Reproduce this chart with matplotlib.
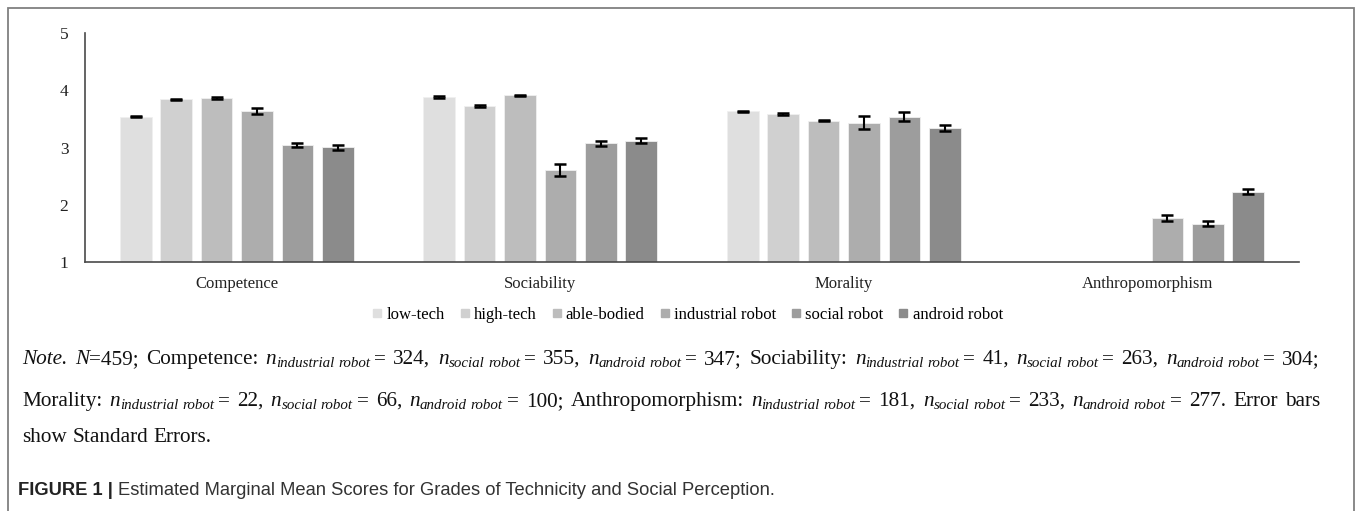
import numpy as np
import matplotlib
matplotlib.use("Agg")
import matplotlib.pyplot as plt
from matplotlib.patches import Rectangle
from matplotlib.lines import Line2D

nan = np.nan
categories = ["Competence", "Sociability", "Morality", "Anthropomorphism"]
groups = ["low-tech", "high-tech", "able-bodied", "industrial robot", "social robot", "android robot"]

low_tech = [3.54, 3.88, 3.63, nan]
high_tech = [3.84, 3.72, 3.59, nan]
able_bodied = [3.86, 3.91, 3.47, nan]
industrial_robot = [3.64, 2.61, 3.43, 1.77]
social_robot = [3.04, 3.07, 3.54, 1.67]
android_robot = [3.00, 3.12, 3.34, 2.23]

se_low_tech = [0.015, 0.015, 0.015, nan]
se_high_tech = [0.015, 0.015, 0.015, nan]
se_able_bodied = [0.015, 0.015, 0.015, nan]
se_industrial_robot = [0.047, 0.10, 0.115, 0.058]
se_social_robot = [0.04, 0.045, 0.075, 0.045]
se_android_robot = [0.045, 0.045, 0.05, 0.047]

yticks = [1, 2, 3, 4, 5]

series = [low_tech, high_tech, able_bodied, industrial_robot, social_robot, android_robot]
errors = [se_low_tech, se_high_tech, se_able_bodied, se_industrial_robot, se_social_robot, se_android_robot]
colors = ["#dfdfdf", "#d0d0d0", "#bdbdbd", "#adadad", "#9d9d9d", "#8b8b8b"]

W, H = 1355, 511
fig = plt.figure(figsize=(W / 100, H / 100), dpi=100)
fig.patch.set_facecolor("white")

def fx(x):
    return x / W

def fy(y):
    return 1 - y / H

ax = fig.add_axes([fx(85), fy(262), (1299 - 85) / W, (262 - 33) / H])
serif = "Liberation Serif"

step = 0.1333
width = 0.105
xs = np.arange(len(categories))
for i, (vals, errs, c) in enumerate(zip(series, errors, colors)):
    x = xs + (i - 2.5) * step
    ax.bar(x, vals, width=width, color=c, edgecolor="#f0f0f0", linewidth=0.6, zorder=2)
    ax.errorbar(x, vals, yerr=errs, fmt="none", ecolor="black", elinewidth=1.5,
                capsize=4, capthick=1.8, zorder=3)

ax.set_xlim(-0.5, len(categories) - 0.5)
ax.set_ylim(1, 5)
ax.set_yticks(yticks)
ax.set_yticklabels([str(t) for t in yticks], fontfamily=serif, fontsize=12.5, color="#222222")
ax.set_xticks(xs)
ax.set_xticklabels(categories, fontfamily=serif, fontsize=12, color="#222222")
ax.tick_params(axis="both", length=0)
ax.tick_params(axis="y", pad=12)
ax.tick_params(axis="x", pad=10)
for s in ["top", "right"]:
    ax.spines[s].set_visible(False)
for s in ["left", "bottom"]:
    ax.spines[s].set_color("#4a4a4a")
    ax.spines[s].set_linewidth(1.2)

handles = [Line2D([], [], marker="s", linestyle="none", markersize=6,
                  markerfacecolor=c, markeredgecolor=c) for c in colors]
fig.legend(handles, groups, loc="center", bbox_to_anchor=(fx(688), fy(315)), ncol=6,
           frameon=False, prop={"family": serif, "size": 12}, handlelength=0.5,
           handletextpad=0.3, columnspacing=0.95, borderaxespad=0)

# outer frame (open at bottom)
fig.add_artist(Rectangle((fx(8), -0.05), (1354 - 8) / W, fy(8) + 0.05, transform=fig.transFigure,
                         fill=False, edgecolor="#808080", linewidth=1.3))

renderer = fig.canvas.get_renderer()
styles = {
    "r": dict(family=serif, size=15.3),
    "i": dict(family=serif, size=15.3, style="italic"),
    "s": dict(family=serif, size=10.8, style="italic"),
}
offsets = {"r": 0, "i": 0, "s": 3}

def width_of(s, st):
    t = fig.text(0, 0, s, fontfamily=styles[st]["family"], fontsize=styles[st]["size"],
                 fontstyle=styles[st].get("style", "normal"))
    w = t.get_window_extent(renderer).width
    t.remove()
    return w

space_w = {k: width_of("a a", k) - width_of("aa", k) for k in styles}

def draw_line(runs, x0, base, target=None):
    items = []
    nstretch = 0
    natural = 0.0
    for text, st in runs:
        parts = text.split(" ")
        for j, p in enumerate(parts):
            if j > 0:
                items.append(("SP", st))
                natural += space_w[st]
                if st == "r":
                    nstretch += 1
            if p:
                w = width_of(p, st)
                items.append((p, st, w))
                natural += w
    extra = 0.0
    if target is not None and nstretch:
        extra = (target - natural) / nstretch
    x = x0
    for it in items:
        if it[0] == "SP":
            x += space_w[it[1]] + (extra if it[1] == "r" else 0)
        else:
            p, st, w = it
            fig.text(fx(x), fy(base + offsets[st]), p, fontfamily=styles[st]["family"],
                     fontsize=styles[st]["size"], fontstyle=styles[st].get("style", "normal"),
                     va="baseline", ha="left", color="#111111")
            x += w

line1 = [("Note.", "i"), (" ", "r"), ("N", "i"), ("=459; Competence: ", "r"),
         ("n", "i"), ("industrial robot ", "s"), ("= 324, ", "r"),
         ("n", "i"), ("social robot ", "s"), ("= 355, ", "r"),
         ("n", "i"), ("android robot ", "s"), ("= 347; Sociability: ", "r"),
         ("n", "i"), ("industrial robot ", "s"), ("= 41, ", "r"),
         ("n", "i"), ("social robot ", "s"), ("= 263, ", "r"),
         ("n", "i"), ("android robot ", "s"), ("= 304;", "r")]
line2 = [("Morality: ", "r"),
         ("n", "i"), ("industrial robot ", "s"), ("= 22, ", "r"),
         ("n", "i"), ("social robot ", "s"), ("= 66, ", "r"),
         ("n", "i"), ("android robot ", "s"), ("= 100; Anthropomorphism: ", "r"),
         ("n", "i"), ("industrial robot ", "s"), ("= 181, ", "r"),
         ("n", "i"), ("social robot ", "s"), ("= 233, ", "r"),
         ("n", "i"), ("android robot ", "s"), ("= 277. Error bars", "r")]
line3 = [("show Standard Errors.", "r")]

draw_line(line1, 22, 364, target=1320 - 22)
draw_line(line2, 22, 406, target=1320 - 22)
draw_line(line3, 22, 442)

# caption
cap_bold = fig.text(fx(18), fy(495), "FIGURE 1 | ", fontfamily="Liberation Sans", fontweight="bold",
                    fontsize=13.2, color="#222222", va="baseline", ha="left")
bw = cap_bold.get_window_extent(renderer).width
fig.text(fx(18 + bw), fy(495), "Estimated Marginal Mean Scores for Grades of Technicity and Social Perception.",
         fontfamily="Liberation Sans", fontsize=13.2, color="#333333", va="baseline", ha="left")

fig.savefig("out.png", dpi=100, facecolor="white")
